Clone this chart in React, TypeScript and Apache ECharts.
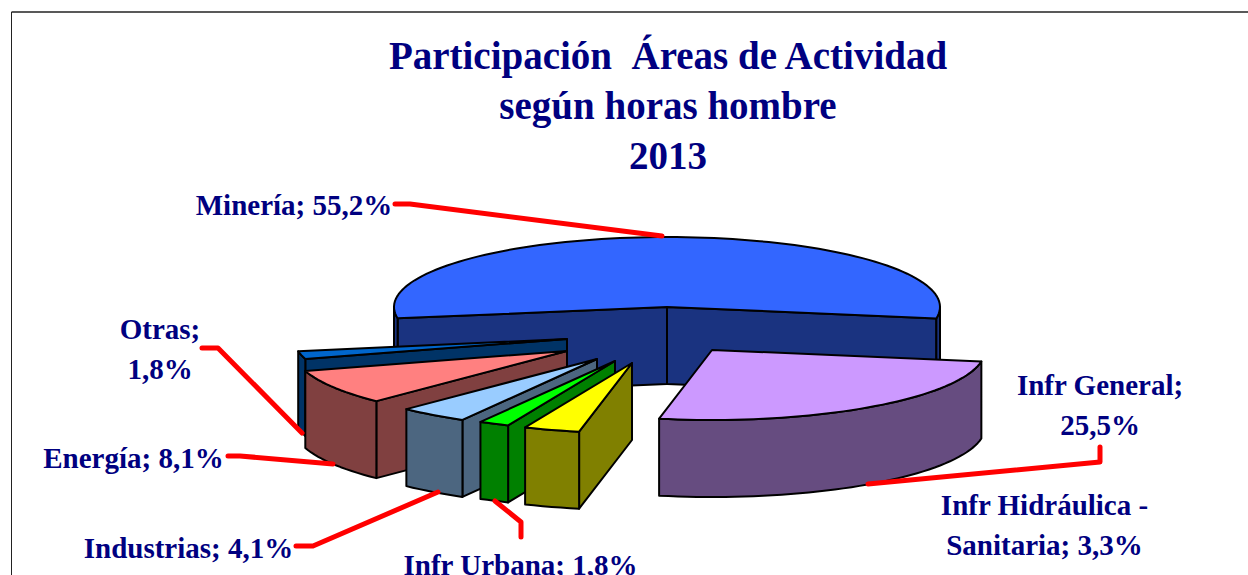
import React, { useEffect, useRef } from "react";
import * as echarts from "echarts";

const categories = ["Minería", "Infr General", "Infr Hidráulica - Sanitaria", "Infr Urbana", "Industrias", "Energía", "Otras"];
const shares = [55.2, 25.5, 3.3, 1.8, 4.1, 8.1, 1.8];
const titleLines = ["Participación  Áreas de Actividad", "según horas hombre", "2013"];
const topColors = ["#3366FF", "#CC99FF", "#FFFF00", "#00FF00", "#99CCFF", "#FF8080", "#0066CC"];
const wallColors = ["#1A3380", "#664C80", "#808000", "#008000", "#4C6680", "#804040", "#003366"];
const explodeX = [0, 45, -35, -52, -70, -100, -100];
const explodeY = [0, 43, 56, 54, 52, 44, 32];
const drawOrder = [0, 6, 5, 1, 4, 3, 2];

const CX = 667, CY = 307, A = 273, B = 70, DEPTH = 77;
const FIRST_ANGLE = -99.35;
const NAVY = "#000080";
const SERIF = '"Liberation Serif", "Times New Roman", serif';

const fmt = (i: number) => `${categories[i]}; ${shares[i].toFixed(1).replace(".", ",")}%`;
const starts: number[] = [];
shares.reduce((acc, v, i) => { starts[i] = acc; return acc + (v / 100) * 360; }, FIRST_ANGLE);

const rad = (d: number) => (d * Math.PI) / 180;
const onRim = (ax: number, ay: number, deg: number): number[] => [ax + A * Math.sin(rad(deg)), ay - B * Math.cos(rad(deg))];
const arcPoints = (ax: number, ay: number, a0: number, a1: number): number[][] => {
  const n = Math.max(2, Math.ceil(Math.abs(a1 - a0) / 2));
  const pts: number[][] = [];
  for (let k = 0; k <= n; k++) pts.push(onRim(ax, ay, a0 + ((a1 - a0) * k) / n));
  return pts;
};
const drop = (pts: number[][]) => pts.map((p) => [p[0], p[1] + DEPTH]);

function renderSlice(_params: any, api: any) {
  const i = api.value(0) as number;
  const a0 = starts[i];
  const a1 = a0 + (shares[i] / 100) * 360;
  const ax = CX + explodeX[i];
  const ay = CY + explodeY[i];
  const apex = [ax, ay];
  const stroke = { stroke: "#000", lineWidth: 2, lineJoin: "round" };
  const wall = { ...stroke, fill: wallColors[i] };
  const children: any[] = [];
  const poly = (points: number[][], style: any) => children.push({ type: "polygon", shape: { points }, style });

  const radialWall = (deg: number, normal: number) => {
    if (Math.cos(rad(normal)) < 0) {
      const rim = onRim(ax, ay, deg);
      poly([apex, rim, ...drop([rim]), ...drop([apex])], wall);
    }
  };
  radialWall(a0, a0 - 90);
  radialWall(a1, a1 + 90);

  // outer wall: the part of the rim on the viewer's side
  for (const [lo, hi] of [[90, 270], [-270, -90]]) {
    const s = Math.max(a0, lo);
    const e = Math.min(a1, hi);
    if (e > s) {
      const arc = arcPoints(ax, ay, s, e);
      poly([...arc, ...drop(arc).reverse()], wall);
    }
  }
  poly([apex, ...arcPoints(ax, ay, a0, a1)], { ...stroke, fill: topColors[i] });
  return { type: "group", children };
}

const labelStyle = { fill: NAVY, font: `bold 29px ${SERIF}`, textAlign: "center", textVerticalAlign: "middle", lineHeight: 40 };
const label = (text: string, x: number, y: number) => ({ type: "text", x, y, silent: true, z: 10, style: { ...labelStyle, text } });
const leader = (points: number[][]) => ({ type: "polyline", silent: true, z: 9, shape: { points }, style: { stroke: "#FF0000", lineWidth: 5, fill: "none", lineCap: "round", lineJoin: "round" } });

export default function App() {
  const ref = useRef<HTMLDivElement>(null);
  useEffect(() => {
    const chart = echarts.init(ref.current!, undefined, { renderer: "svg" });
    chart.setOption({
      animation: false,
      backgroundColor: "#fff",
      title: {
        text: titleLines.join("\n"),
        left: 663,
        top: 25,
        textAlign: "center",
        textStyle: { color: NAVY, fontFamily: SERIF, fontWeight: "bold", fontSize: 39, lineHeight: 50 },
      },
      series: [{
        type: "custom",
        coordinateSystem: "none",
        silent: true,
        renderItem: renderSlice,
        data: drawOrder.map((i) => [i]),
      }],
      graphic: [
        { type: "line", silent: true, shape: { x1: 11.5, y1: 12, x2: 1248, y2: 12 }, style: { stroke: "#222", lineWidth: 1.5 } },
        { type: "line", silent: true, shape: { x1: 11.5, y1: 12, x2: 11.5, y2: 575 }, style: { stroke: "#222", lineWidth: 1 } },
        leader([[395, 204], [410, 204], [662, 236]]),
        leader([[202, 348], [218, 348], [302, 433]]),
        leader([[228, 456], [240, 456], [333, 464]]),
        leader([[296, 546], [313, 546], [438, 492]]),
        leader([[521, 537], [521, 522], [495, 501]]),
        leader([[1100, 447], [1100, 462], [868, 484]]),
        label(fmt(0), 294, 205),
        label("Otras;\n1,8%", 160, 349),
        label(fmt(5), 133.5, 458),
        label(fmt(4), 188.5, 548),
        label(fmt(3), 520.5, 565),
        label("Infr General;\n25,5%", 1100, 405),
        label("Infr Hidráulica -\nSanitaria; 3,3%", 1044.5, 525),
      ],
    });
    return () => chart.dispose();
  }, []);
  return <div ref={ref} style={{ position: "fixed", left: 0, top: 0, width: 1248, height: 575, overflow: "hidden" }} />;
}
